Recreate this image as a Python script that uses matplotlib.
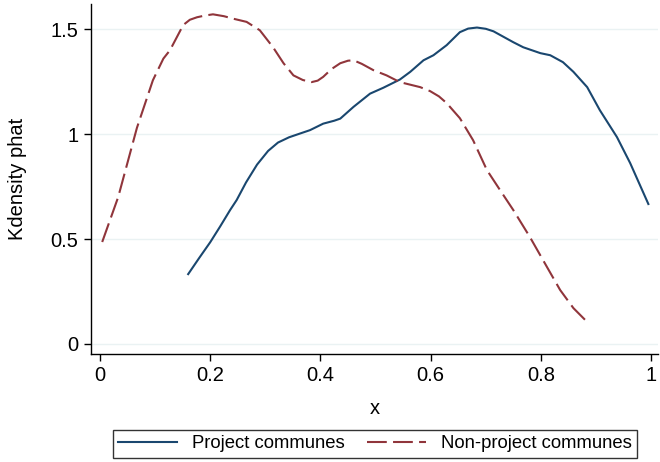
import numpy as np
import matplotlib.pyplot as plt

plt.rcParams['font.family'] = ['Liberation Sans', 'DejaVu Sans']

# kernel density estimates
proj_x = [0.16, 0.18, 0.20, 0.218, 0.236, 0.248, 0.265, 0.285, 0.305, 0.323, 0.343, 0.363,
          0.381, 0.405, 0.425, 0.436, 0.46, 0.49, 0.514, 0.544, 0.563, 0.587, 0.605, 0.629,
          0.653, 0.668, 0.684, 0.70, 0.714, 0.75, 0.768, 0.799, 0.817, 0.84, 0.859, 0.884,
          0.907, 0.938, 0.962, 0.995]
proj_y = [0.333, 0.41, 0.485, 0.56, 0.638, 0.686, 0.77, 0.855, 0.92, 0.96, 0.985, 1.003,
          1.019, 1.05, 1.064, 1.074, 1.13, 1.193, 1.221, 1.26, 1.297, 1.352, 1.376, 1.424,
          1.486, 1.503, 1.508, 1.502, 1.49, 1.438, 1.414, 1.386, 1.376, 1.343, 1.297, 1.224,
          1.114, 0.986, 0.862, 0.667]

nonproj_x = [0.004, 0.033, 0.067, 0.096, 0.115, 0.127, 0.14, 0.151, 0.163, 0.176, 0.19,
             0.205, 0.225, 0.242, 0.266, 0.29, 0.314, 0.333, 0.351, 0.368, 0.384, 0.395,
             0.405, 0.42, 0.436, 0.45, 0.46, 0.475, 0.496, 0.52, 0.544, 0.581, 0.599, 0.615,
             0.629, 0.653, 0.677, 0.702, 0.726, 0.75, 0.78, 0.811, 0.835, 0.859, 0.884]
nonproj_y = [0.486, 0.70, 1.03, 1.257, 1.36, 1.40, 1.465, 1.52, 1.545, 1.557, 1.565,
             1.571, 1.562, 1.55, 1.535, 1.495, 1.414, 1.338, 1.28, 1.258, 1.248, 1.255,
             1.273, 1.31, 1.338, 1.35, 1.352, 1.335, 1.305, 1.28, 1.248, 1.224, 1.205, 1.18,
             1.148, 1.076, 0.971, 0.829, 0.733, 0.638, 0.51, 0.367, 0.257, 0.171, 0.105]

xticks = [0, 0.2, 0.4, 0.6, 0.8, 1]
xtick_labels = ['0', '0.2', '0.4', '0.6', '0.8', '1']
yticks = [0, 0.5, 1, 1.5]
ytick_labels = ['0', '0.5', '1', '1.5']

fig = plt.figure(figsize=(6.6, 4.62), dpi=100)
ax = fig.add_axes([0.1374, 0.2338, 0.86, 0.757])

ax.plot(proj_x, proj_y, color='#1a476f', lw=1.5, label='Project communes')
ax.plot(nonproj_x, nonproj_y, color='#90353b', lw=1.5, dashes=(9.5, 3),
        label='Non-project communes')

ax.set_xlim(-0.0169, 1.013)
ax.set_ylim(-0.0476, 1.619)
ax.set_xticks(xticks, xtick_labels)
ax.set_yticks(yticks, ytick_labels)
ax.grid(axis='y', color='#eaf2f3', lw=1)
ax.set_axisbelow(True)
for s in ['top', 'right']:
    ax.spines[s].set_visible(False)
for s in ['left', 'bottom']:
    ax.spines[s].set_linewidth(1)
ax.tick_params(direction='out', length=5, width=1, labelsize=14.5, pad=4)
ax.set_xlabel('x', fontsize=14.5, labelpad=10)
ax.set_ylabel('Kdensity phat', fontsize=14.5, labelpad=17)

leg = fig.legend(loc='lower center', bbox_to_anchor=(0.568, 0.009), ncol=2,
                 fontsize=13.3, frameon=True, fancybox=False, edgecolor='black',
                 handlelength=3.2, columnspacing=1.2, borderpad=0.3, borderaxespad=0)
leg.get_frame().set_linewidth(1)

fig.savefig('out.png', dpi=100)
